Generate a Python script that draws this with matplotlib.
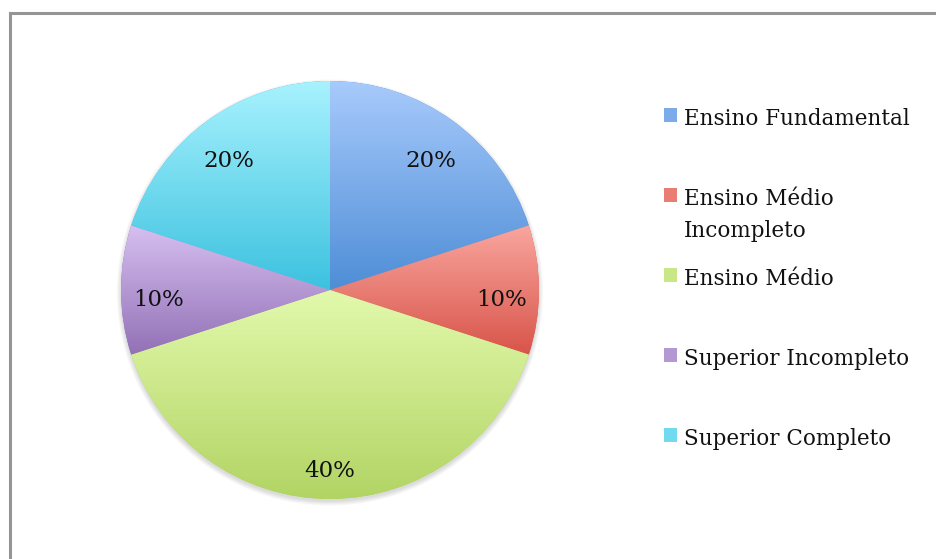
import numpy as np
import matplotlib.pyplot as plt
from matplotlib.colors import to_rgb
from matplotlib.patches import Rectangle
from matplotlib.lines import Line2D

# escolaridade dos entrevistados
categorias = ["Ensino Fundamental", "Ensino Médio\nIncompleto", "Ensino Médio",
              "Superior Incompleto", "Superior Completo"]
percentuais = [20, 10, 40, 10, 20]

# gradiente de cada fatia: cor no topo, cor na base
cor_topo = ["#a8cafc", "#f9a69e", "#e2f9ac", "#d6bff0", "#a8f2fe"]
cor_base = ["#4e8ed6", "#d8544a", "#b2d464", "#9271b6", "#3cc2df"]

plt.rcParams["font.family"] = ["DejaVu Serif"]

W, H = 936, 559
fig = plt.figure(figsize=(W / 100, H / 100), dpi=100)
fig.patch.set_facecolor("white")

# moldura cortada: so as bordas de cima e da esquerda aparecem
fig.add_artist(Line2D([10 / W, 1], [1 - 13 / H] * 2, color="#959595", lw=2.2,
                      transform=fig.transFigure))
fig.add_artist(Line2D([10 / W] * 2, [0, 1 - 13 / H], color="#959595", lw=2.2,
                      transform=fig.transFigure))

cx, cy, r = 330, 290, 209
ax = fig.add_axes([(cx - r) / W, (H - cy - r) / H, 2 * r / W, 2 * r / H])

wedges, textos, pcts = ax.pie(percentuais, startangle=90, counterclock=False,
                              autopct="%1.0f%%", pctdistance=0.82,
                              wedgeprops=dict(linewidth=0),
                              textprops=dict(fontsize=16.5, color="#111111"))
ax.set_xlim(-1, 1)
ax.set_ylim(-1, 1)
ax.axis("off")

# sombra leve sob a pizza
for k in range(6):
    ax.add_patch(plt.Circle((0.0, -0.012), 1.0 + 0.004 * k, color="black",
                            alpha=0.025, zorder=0, lw=0, clip_on=False))

for w, c0, c1 in zip(wedges, cor_topo, cor_base):
    ext = w.get_path().get_extents()
    t = np.linspace(0, 1, 200)[:, None]
    grad = (1 - t) * np.array(to_rgb(c0)) + t * np.array(to_rgb(c1))
    w.set_facecolor(c1)
    w.set_zorder(1)
    im = ax.imshow(grad[:, None, :], extent=(ext.x0, ext.x1, ext.y0, ext.y1),
                   origin="upper", aspect="auto", interpolation="bilinear", zorder=2)
    im.set_clip_path(w)

for p in pcts:
    p.set_zorder(5)
    p.set_va("center_baseline")
    x, y = p.get_position()
    p.set_position((x, y - 0.035))

# legenda montada a mao, quadrado alinhado com a primeira linha
base = [125, 205, 285, 365, 445]
for nome, c0, c1, yb in zip(categorias, cor_topo, cor_base, base):
    meio = 0.5 * (np.array(to_rgb(c0)) + np.array(to_rgb(c1)))
    fig.add_artist(Rectangle((664 / W, 1 - (yb - 3) / H), 13 / W, 14 / H,
                             facecolor=meio, edgecolor="none",
                             transform=fig.transFigure))
    for i, linha in enumerate(nome.split("\n")):
        fig.text(684 / W, 1 - (yb + 32 * i) / H, linha, fontsize=15.5,
                 va="baseline", ha="left", color="#111111")

fig.savefig("out.png", dpi=100, facecolor="white")
